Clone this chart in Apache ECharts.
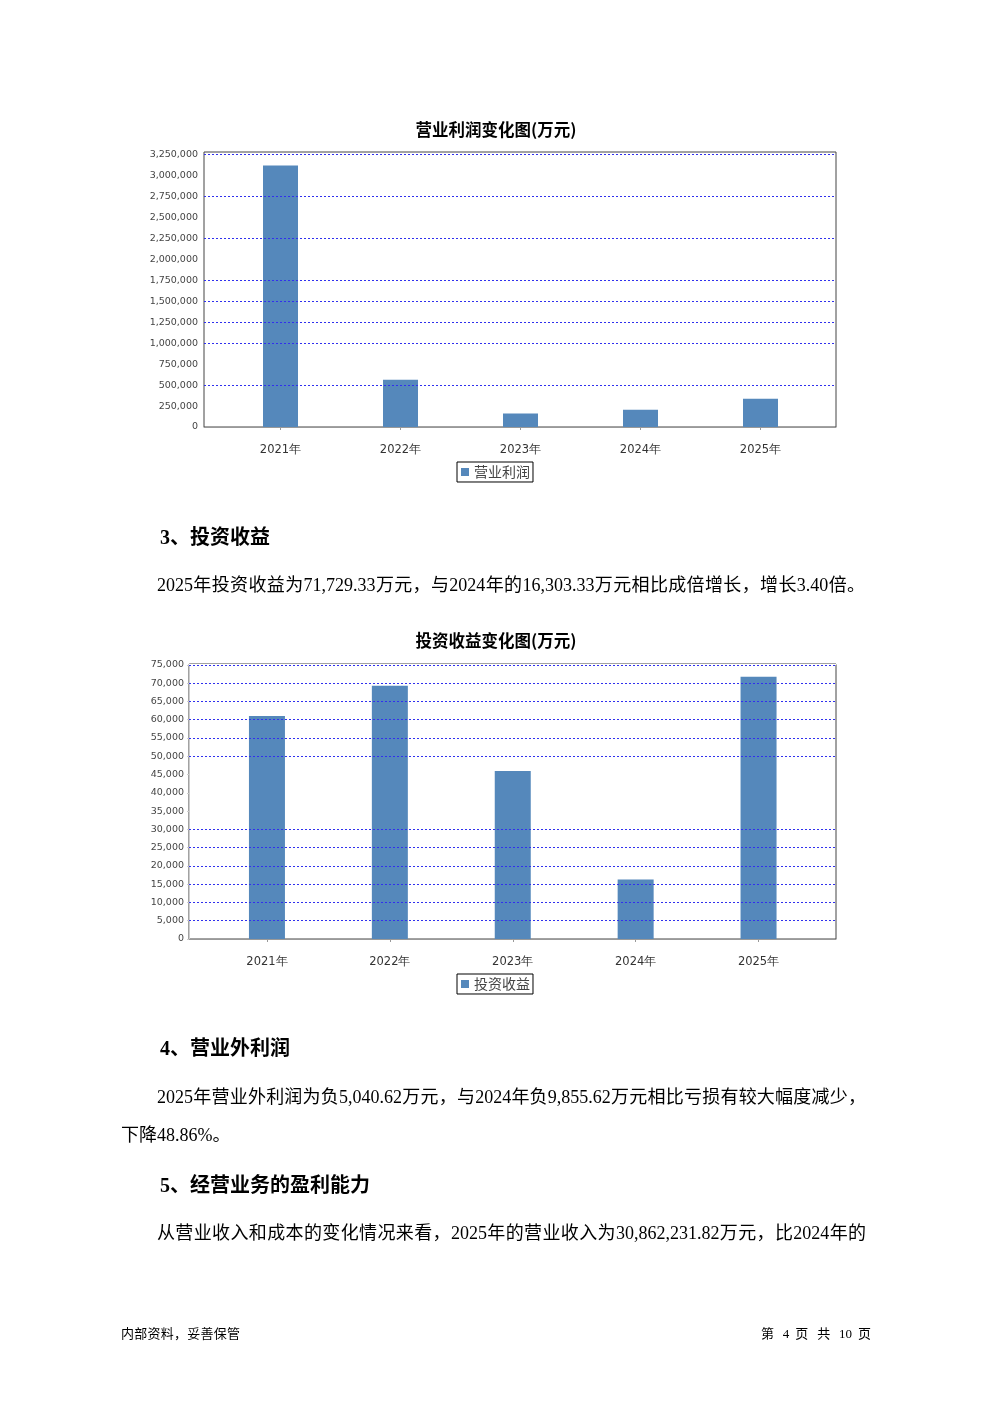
<!DOCTYPE html>
<html lang="zh-CN">
<head>
<meta charset="utf-8">
<script src="https://cdn.jsdelivr.net/npm/echarts@6/dist/echarts.min.js"></script>
<style>
html,body{margin:0;padding:0;background:#fff;}
#page{position:relative;width:992px;height:1403px;overflow:hidden;background:#fff;}
#chart{position:absolute;left:0;top:0;width:992px;height:1403px;}
.t{position:absolute;white-space:nowrap;font-family:"Liberation Serif","Noto Sans CJK SC",serif;color:#000;z-index:2;}
.h{font-size:20px;line-height:20px;font-weight:bold;}
.p{font-size:18px;line-height:18px;}
.j{text-align:justify;text-align-last:justify;}
.f{font-size:13px;line-height:13px;}
</style>
</head>
<body>
<div id="page">
  <div id="chart"></div>
  <div class="t h" style="left:160px;top:527px;">3、投资收益</div>
  <div class="t p j" style="left:157px;top:576px;width:708px;">2025年投资收益为71,729.33万元，与2024年的16,303.33万元相比成倍增长，增长3.40倍。</div>
  <div class="t h" style="left:160px;top:1038px;">4、营业外利润</div>
  <div class="t p j" style="left:157px;top:1088px;width:709px;">2025年营业外利润为负5,040.62万元，与2024年负9,855.62万元相比亏损有较大幅度减少，</div>
  <div class="t p" style="left:121px;top:1126px;">下降48.86%。</div>
  <div class="t h" style="left:160px;top:1175px;">5、经营业务的盈利能力</div>
  <div class="t p j" style="left:157px;top:1224px;width:709px;">从营业收入和成本的变化情况来看，2025年的营业收入为30,862,231.82万元，比2024年的</div>
  <div class="t f j" style="left:121px;top:1327px;width:119px;">内部资料，妥善保管</div>
  <div class="t f j" style="left:761px;top:1327px;width:110px;">第 4 页 共 10 页</div>
</div>
<script>
// ---- data ----
const years = ['2021年', '2022年', '2023年', '2024年', '2025年'];

const profitTitle = '营业利润变化图(万元)';
const profitName = '营业利润';
const profitValues = [3120000, 565000, 160000, 207000, 338000];
const profitAxisMax = 3282000;
const profitAxisInterval = 250000;
const profitGridLines = [3250000, 2750000, 2250000, 1750000, 1500000, 1250000, 1000000, 500000];

const investTitle = '投资收益变化图(万元)';
const investName = '投资收益';
const investValues = [61000, 69300, 46000, 16303.33, 71729.33];
const investAxisMax = 75250;
const investAxisInterval = 5000;
const investGridLines = [75000, 70000, 65000, 60000, 55000, 50000, 30000, 25000, 20000, 15000, 10000, 5000];

// ---- styles ----
const barColor = '#5588bb';
const fmt = v => String(Math.round(v)).replace(/\B(?=(\d{3})+(?!\d))/g, ',');
const gridLineStyle = { color: '#3030ee', type: [2, 2], width: 1 };
const labelFont = 'DejaVu Sans';

function frameX(grid, offset) {
  return { gridIndex: grid, type: 'value', min: 0, max: 1, offset: offset,
    axisLine: { show: true, lineStyle: { color: '#999' } },
    axisTick: { show: false }, axisLabel: { show: false }, splitLine: { show: false } };
}
function catX(grid, offset, margin) {
  return { gridIndex: grid, type: 'category', data: years, offset: offset,
    axisLine: { show: false },
    axisTick: { show: true, alignWithLabel: true, length: 3, lineStyle: { color: '#999' } },
    axisLabel: { fontSize: 11.5, color: '#333', margin: margin, fontFamily: labelFont },
    splitLine: { show: false } };
}
function gridSeries(xi, yi, lines) {
  return { type: 'line', xAxisIndex: xi, yAxisIndex: yi, data: [], silent: true,
    markLine: { silent: true, symbol: 'none', label: { show: false },
      lineStyle: gridLineStyle, emphasis: { disabled: true },
      data: lines.map(v => ({ yAxis: v })) } };
}
function legend(name, top) {
  return { data: [name], left: 457, top: top, orient: 'horizontal', selectedMode: false,
    borderColor: '#000', borderWidth: 1, padding: [3, 3, 3, 4],
    itemWidth: 8, itemHeight: 8, icon: 'rect',
    textStyle: { fontSize: 14, color: '#444', fontFamily: 'Noto Sans CJK SC' } };
}

const chart = echarts.init(document.getElementById('chart'), null, { renderer: 'canvas' });
chart.setOption({
  animation: false,
  backgroundColor: 'transparent',
  title: [
    { text: profitTitle, left: 'center', top: 116,
      textStyle: { fontSize: 16.5, fontWeight: 'bold', color: '#000', fontFamily: 'Noto Sans CJK SC' } },
    { text: investTitle, left: 'center', top: 627,
      textStyle: { fontSize: 16.5, fontWeight: 'bold', color: '#000', fontFamily: 'Noto Sans CJK SC' } }
  ],
  legend: [legend(profitName, 462), legend(investName, 974)],
  grid: [
    { left: 204, top: 152, width: 632, height: 275, show: true, borderColor: '#444', borderWidth: 1 },
    { left: 220.5, top: 152, width: 600, height: 275 },
    { left: 189, top: 664, width: 647, height: 275, show: true, borderColor: '#444', borderWidth: 1 },
    { left: 205.5, top: 664, width: 614.5, height: 275 }
  ],
  xAxis: [
    frameX(0, 9),
    catX(1, 9, 8),
    frameX(2, 8),
    catX(3, 8, 9),
    { gridIndex: 2, type: 'value', min: 0, max: 1, offset: 0,
      axisLine: { show: true, lineStyle: { color: '#fff', width: 1 } },
      axisTick: { show: false }, axisLabel: { show: false }, splitLine: { show: false } }
  ],
  yAxis: [
    { gridIndex: 0, type: 'value', min: 0, max: profitAxisMax, interval: profitAxisInterval,
      axisLine: { show: false }, axisTick: { show: false }, splitLine: { show: false },
      axisLabel: { formatter: fmt, fontSize: 9.5, color: '#444', margin: 6, showMaxLabel: false, fontFamily: labelFont } },
    { gridIndex: 1, type: 'value', min: 0, max: profitAxisMax, show: false, splitLine: { show: false } },
    { gridIndex: 2, type: 'value', min: 0, max: investAxisMax, interval: investAxisInterval,
      axisLine: { show: true, lineStyle: { color: '#ccc' } },
      axisTick: { show: true, length: 2, lineStyle: { color: '#ccc' } }, splitLine: { show: false },
      axisLabel: { formatter: fmt, fontSize: 9.5, color: '#444', margin: 5, showMaxLabel: false, fontFamily: labelFont } },
    { gridIndex: 3, type: 'value', min: 0, max: investAxisMax, show: false, splitLine: { show: false } }
  ],
  series: [
    gridSeries(0, 0, profitGridLines),
    { type: 'bar', name: profitName, xAxisIndex: 1, yAxisIndex: 1, data: profitValues,
      barWidth: 35, itemStyle: { color: barColor } },
    gridSeries(2, 2, investGridLines),
    { type: 'bar', name: investName, xAxisIndex: 3, yAxisIndex: 3, data: investValues,
      barWidth: 36, itemStyle: { color: barColor } }
  ]
});
</script>
</body>
</html>
